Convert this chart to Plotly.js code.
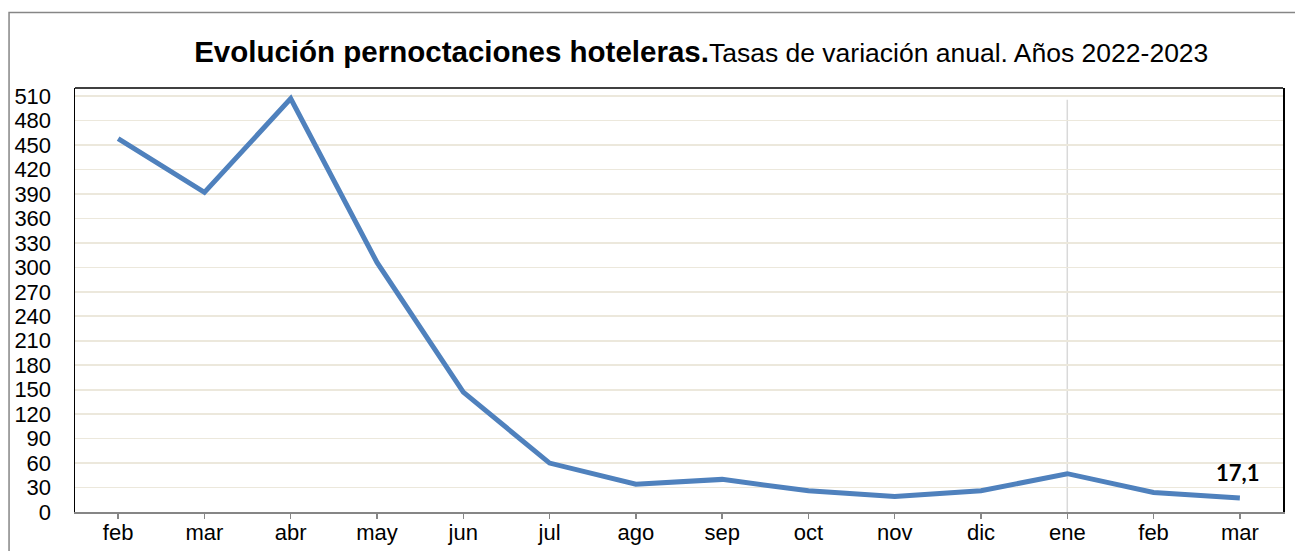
<!DOCTYPE html>
<html>
<head>
<meta charset="utf-8">
<script src="https://cdn.plot.ly/plotly-3.0.1.min.js"></script>
<style>
  html, body { margin: 0; padding: 0; background: #ffffff; overflow: hidden; }
  #chart { width: 1295px; height: 551px; }
</style>
</head>
<body>
<div id="chart"></div>
<script>
// Data (annual variation rate, %)
const months = ["feb", "mar", "abr", "may", "jun", "jul", "ago", "sep", "oct", "nov", "dic", "ene", "feb", "mar"];
const rates = [458, 392, 507, 306, 147, 60, 34, 40, 26, 19, 26, 47, 24, 17.1];
const yearBreakLabel = "ene";
const titleBold = "Evolución pernoctaciones hoteleras.";
const titleRest = "Tasas de variación anual. Años 2022-2023";

const xIdx = months.map((m, i) => i);
const lastIdx = rates.length - 1;
const breakIdx = months.indexOf(yearBreakLabel);
const yTicks = [];
for (let v = 0; v <= 510; v += 30) yTicks.push(v);

const FONT = '"Liberation Sans", Arial, sans-serif';

const trace = {
  x: xIdx,
  y: rates,
  type: 'scatter',
  mode: 'lines',
  line: { color: '#4F81BD', width: 5 },
  hoverinfo: 'x+y'
};

const layout = {
  width: 1295,
  height: 551,
  margin: { l: 75, r: 12, t: 88, b: 39 },
  paper_bgcolor: '#ffffff',
  plot_bgcolor: '#ffffff',
  showlegend: false,
  font: { family: FONT, size: 22, color: '#000000' },
  title: {
    text: '<b>' + titleBold + '</b><span style="font-size:26.5px">' + titleRest + '</span>',
    font: { family: FONT, size: 29.5, color: '#000000' },
    x: 0.5415, xref: 'container', xanchor: 'center',
    y: 0.907, yref: 'container', yanchor: 'middle'
  },
  xaxis: {
    range: [-0.5, lastIdx + 0.5],
    tickmode: 'array',
    tickvals: xIdx,
    ticktext: months,
    ticks: 'outside',
    ticklen: 5,
    tickwidth: 1.5,
    tickcolor: '#868686',
    showline: true,
    linecolor: '#868686',
    linewidth: 1.5,
    showgrid: false,
    zeroline: false,
    ticklabelstandoff: -5,
    tickfont: { family: FONT, size: 22, color: '#000000' }
  },
  yaxis: {
    range: [0, 520],
    tickmode: 'array',
    tickvals: yTicks,
    ticktext: yTicks.map(String),
    ticks: '',
    showline: true,
    mirror: true,
    linecolor: '#000000',
    linewidth: 1.5,
    showgrid: true,
    gridcolor: '#ECE8DC',
    gridwidth: 1.7,
    zeroline: false,
    ticklabelstandoff: 18,
    tickfont: { family: FONT, size: 22, color: '#000000' }
  },
  shapes: [
    // top border of plot area
    { type: 'line', xref: 'paper', yref: 'paper', x0: 0, x1: 1, y0: 1, y1: 1,
      line: { color: '#000000', width: 1.5 } },
    // year separator at "ene"
    { type: 'line', xref: 'x', yref: 'paper', x0: breakIdx, x1: breakIdx, y0: 0, y1: 0.972,
      line: { color: '#D9D9D9', width: 1.5 }, layer: 'below' },
    // outer chart frame (left & top visible)
    { type: 'rect', xref: 'paper', yref: 'paper', x0: -0.0546, x1: 1.02, y0: -0.12, y1: 1.178,
      line: { color: '#868686', width: 1.5 }, fillcolor: 'rgba(0,0,0,0)' }
  ],
  annotations: [
    { x: lastIdx, y: rates[lastIdx], xref: 'x', yref: 'y',
      text: '<b>' + String(rates[lastIdx]).replace('.', ',') + '</b>',
      showarrow: false, yanchor: 'bottom', xanchor: 'center', xshift: -2, yshift: 10,
      font: { family: 'Lato, "Open Sans", sans-serif', size: 22, color: '#000000' } }
  ]
};

Plotly.newPlot('chart', [trace], layout, { displayModeBar: false, staticPlot: true });
</script>
</body>
</html>
